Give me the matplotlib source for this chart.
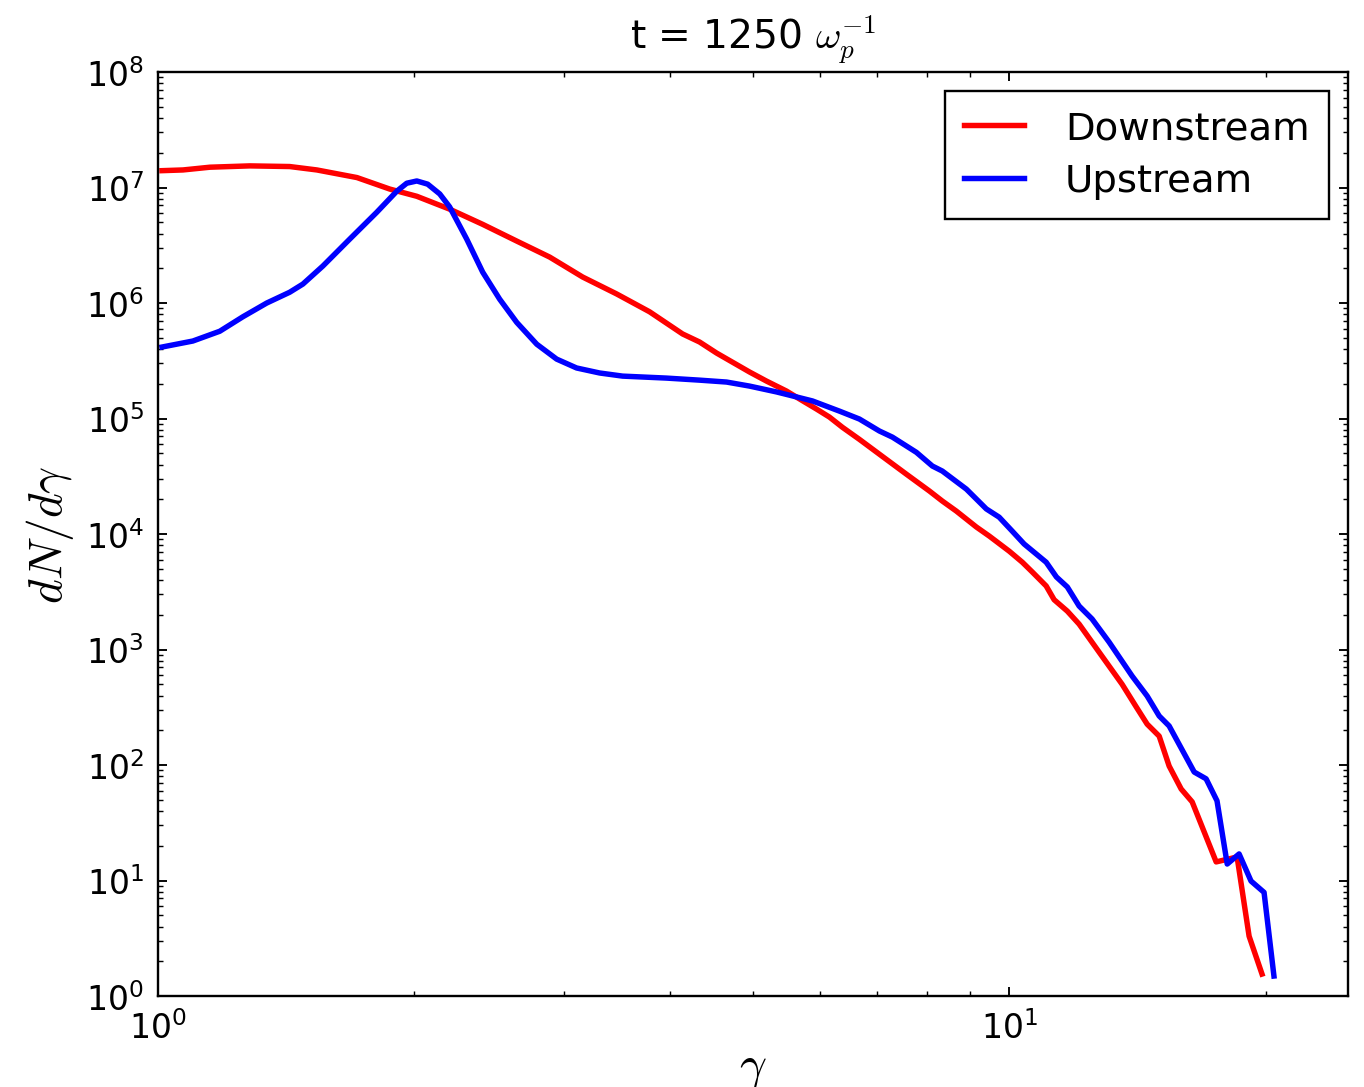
import matplotlib
matplotlib.use("Agg")
import matplotlib.pyplot as plt

# gamma values and dN/dgamma
gamma_down = [1.011, 1.070, 1.151, 1.282, 1.428, 1.537, 1.713, 1.872, 2.014, 2.201,
              2.407, 2.639, 2.885, 3.154, 3.457, 3.780, 4.133, 4.327, 4.531, 4.953,
              5.186, 5.474, 5.669, 5.935, 6.148, 6.368, 6.668, 7.095, 7.570, 8.056,
              8.344, 8.666, 9.149, 9.474, 10.0, 10.36, 10.64, 11.05, 11.29, 11.70,
              12.08, 12.75, 13.57, 14.10, 14.52, 15.00, 15.41, 15.92, 16.40, 17.50,
              18.52, 19.13, 19.81]
dn_down = [1.40e7, 1.42e7, 1.50e7, 1.54e7, 1.52e7, 1.42e7, 1.22e7, 9.7e6, 8.4e6, 6.5e6,
           4.8e6, 3.44e6, 2.5e6, 1.68e6, 1.20e6, 8.4e5, 5.4e5, 4.6e5, 3.69e5, 2.53e5,
           2.11e5, 1.73e5, 1.48e5, 1.21e5, 1.03e5, 8.4e4, 6.6e4, 4.7e4, 3.3e4, 2.36e4,
           1.93e4, 1.58e4, 1.15e4, 9.6e3, 7.1e3, 5.7e3, 4.7e3, 3.55e3, 2.7e3, 2.15e3,
           1.66e3, 950, 500, 318, 226, 178, 98, 62, 48, 14.5,
           16, 3.3, 1.55]

gamma_up = [1.011, 1.099, 1.182, 1.258, 1.342, 1.428, 1.480, 1.562, 1.680, 1.807,
            1.908, 1.960, 2.014, 2.074, 2.143, 2.201, 2.305, 2.407, 2.520, 2.639,
            2.786, 2.940, 3.103, 3.302, 3.514, 3.957, 4.327, 4.655, 4.953, 5.328,
            5.563, 5.873, 6.316, 6.668, 7.038, 7.291, 7.778, 8.122, 8.344, 8.904,
            9.398, 9.73, 10.08, 10.41, 11.05, 11.36, 11.70, 12.08, 12.51, 13.10,
            13.94, 14.52, 15.00, 15.41, 16.49, 17.03, 17.54, 18.03, 18.62, 19.23,
            19.92, 20.46]
dn_up = [4.16e5, 4.69e5, 5.7e5, 7.6e5, 1.0e6, 1.24e6, 1.46e6, 2.09e6, 3.58e6, 6.1e6,
         9.3e6, 1.09e7, 1.14e7, 1.07e7, 8.8e6, 6.8e6, 3.58e6, 1.85e6, 1.08e6, 6.8e5,
         4.4e5, 3.27e5, 2.74e5, 2.48e5, 2.33e5, 2.24e5, 2.15e5, 2.07e5, 1.91e5, 1.70e5,
         1.57e5, 1.42e5, 1.16e5, 9.9e4, 7.8e4, 6.9e4, 5.1e4, 3.88e4, 3.51e4, 2.45e4,
         1.65e4, 1.40e4, 1.06e4, 8.2e3, 5.7e3, 4.25e3, 3.48e3, 2.38e3, 1.84e3, 1.16e3,
         590, 396, 266, 218, 87, 76, 49, 13.9, 17, 9.9,
         7.9, 1.49]

plt.rcParams.update({
    "mathtext.fontset": "cm",
    "xtick.direction": "in",
    "ytick.direction": "in",
    "xtick.top": True,
    "ytick.right": True,
    "xtick.major.size": 4,
    "ytick.major.size": 4,
    "xtick.minor.size": 2,
    "ytick.minor.size": 2,
    "xtick.major.pad": 6,
    "ytick.major.pad": 6,
    "axes.linewidth": 1.0,
    "font.size": 14,
})

fig = plt.figure(figsize=(8.0, 6.381), dpi=170.5)
fig.patch.set_facecolor("white")
ax = fig.add_axes([0.1158, 0.0836, 0.8725, 0.8493])

ax.plot(gamma_down, dn_down, color="red", lw=2.3, label="Downstream")
ax.plot(gamma_up, dn_up, color="blue", lw=2.3, label="Upstream")

ax.set_xscale("log")
ax.set_yscale("log")
ax.set_xlim(1, 25)
ax.set_ylim(1, 1e8)
ax.tick_params(labelsize=14)

ax.set_title(r"t = 1250 $\omega_p^{-1}$", fontsize=16.5, pad=10)
ax.set_xlabel(r"$\gamma$", fontsize=20, labelpad=0)
ax.set_ylabel(r"$dN/d\gamma$", fontsize=20)

leg = ax.legend(loc="upper right", fontsize=16.3, fancybox=False, framealpha=1,
                handlelength=1.55, handletextpad=1.05, labelspacing=0.43,
                borderpad=0.5, borderaxespad=0.5, edgecolor="black")
leg.get_frame().set_linewidth(1.0)

fig.savefig("out.png", dpi=170.5, facecolor="white")
